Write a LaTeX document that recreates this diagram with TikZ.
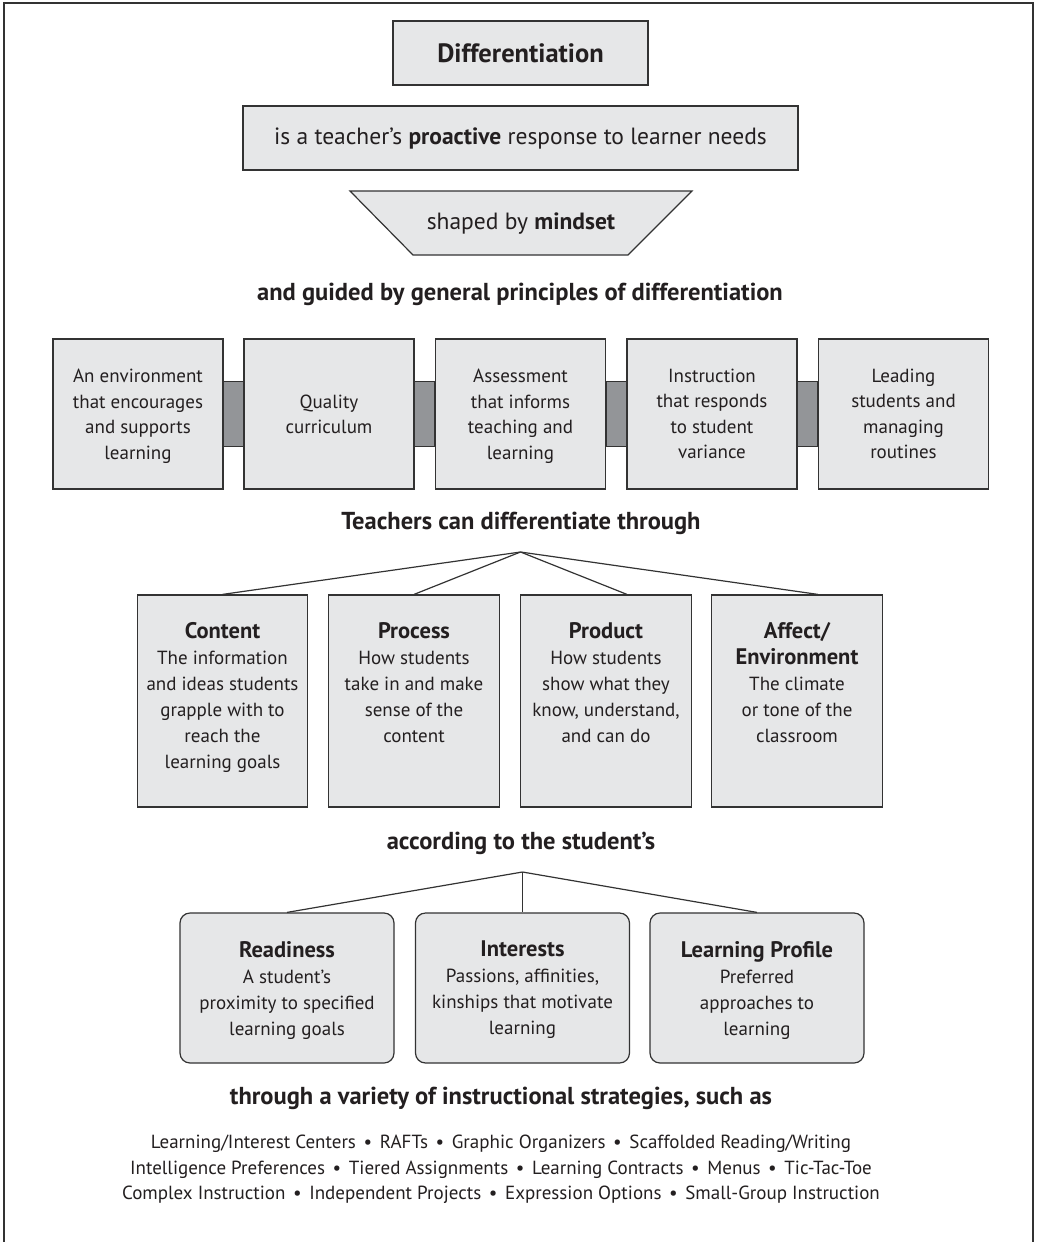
\documentclass[tikz,border=0pt]{standalone}
\usepackage{fontspec}
\setmainfont{PT Sans}
\definecolor{boxc}{HTML}{E6E7E8}
\definecolor{barc}{HTML}{939598}
\definecolor{linec}{HTML}{333333}
\definecolor{txtc}{HTML}{231F20}
\newcommand\myBody{\fontsize{19}{25.5}\selectfont}
\newcommand\myCont{\fontsize{19}{26}\selectfont}
\newcommand\myTi{\fontsize{22.5}{26}\selectfont\bfseries}
\newcommand\myDef{\fontsize{23.5}{27}\selectfont}
\newcommand\myHead{\fontsize{24.5}{28}\selectfont\bfseries}
\newcommand\myTitle{\fontsize{26.5}{30}\selectfont\bfseries}
\newcommand\bul{\hspace{0.4em}•\hspace{0.4em}}
\tikzset{
  boxline/.style={draw=linec, line width=1.2pt},
  box/.style={boxline, fill=boxc, inner sep=0pt, text=txtc},
  prin/.style={box, minimum width=170pt, minimum height=150pt, align=center, font=\myBody, text depth=0pt},
  cbox/.style={box, minimum width=170.5pt, minimum height=212pt},
  ctext/.style={anchor=north, align=center, font=\myCont, inner sep=0pt, text=txtc},
  sbox/.style={box, rounded corners=10pt, minimum width=214pt, minimum height=150pt, align=center, font=\myCont, text depth=0pt},
  head/.style={font=\myHead, text=txtc, inner sep=0pt},
  connbar/.style={boxline, fill=barc},
  link/.style={draw=linec, line width=1.2pt},
}
\begin{document}
\begin{tikzpicture}[x=1pt,y=-1pt]
\useasboundingbox (0,0) rectangle (1037,1242);
\fill[white] (0,0) rectangle (1037,1242);
\draw[draw=linec, line width=1.5pt] (4,1242) -- (4,3) -- (1033,3) -- (1033,1242);

% top
\node[box, minimum width=255pt, minimum height=64pt, font=\myTitle] (diff) at (520.5,53) {Differentiation};
\node[box, minimum width=555pt, minimum height=64pt, font=\myDef] (def) at (520.5,138) {is a teacher’s \textbf{proactive} response to learner needs};
\coordinate (tz1) at (350,191);
\coordinate (tz2) at (692,191);
\coordinate (tz3) at (628,255);
\coordinate (tz4) at (413,255);
\draw[boxline, fill=boxc] (tz1) -- (tz2) -- (tz3) -- (tz4) -- cycle;
\node[font=\myDef, text=txtc, inner sep=0pt] (mind) at (521,224) {shaped by \textbf{mindset}};

% principles
\node[head] (h1) at (520,294) {and guided by general principles of differentiation};
\node[prin] (p1) at (138,414) {An environment\\that encourages\\and supports\\learning};
\node[prin] (p2) at (329,414) {Quality\\curriculum};
\node[prin] (p3) at (520.5,414) {Assessment\\that informs\\teaching and\\learning};
\node[prin] (p4) at (712,414) {Instruction\\that responds\\to student\\variance};
\node[prin] (p5) at (903.5,414) {Leading\\students and\\managing\\routines};
\foreach \a/\b in {p1/p2,p2/p3,p3/p4,p4/p5}
  \draw[connbar] ([yshift=32.5pt]\a.east) rectangle ([yshift=-32.5pt]\b.west);

% ways
\node[head] (h2) at (521,523) {Teachers can differentiate through};
\coordinate (a1) at (520.5,552);
\node[cbox] (c1) at (222.5,701) {};
\node[cbox] (c2) at (414,701) {};
\node[cbox] (c3) at (606,701) {};
\node[cbox] (c4) at (797,701) {};
\node[ctext] (c1t) at ([yshift=-28pt]c1.north) {{\myTi Content}\\The information\\and ideas students\\grapple with to\\reach the\\learning goals};
\node[ctext] (c2t) at ([yshift=-28pt]c2.north) {{\myTi Process}\\How students\\take in and make\\sense of the\\content};
\node[ctext] (c3t) at ([yshift=-28pt]c3.north) {{\myTi Product}\\How students\\show what they\\know, understand,\\and can do};
\node[ctext] (c4t) at ([yshift=-28pt]c4.north) {{\myTi Affect/}\\{\myTi Environment}\\The climate\\or tone of the\\classroom};
\draw[link] (a1) -- (c1.north);
\draw[link] (a1) -- (c2.north);
\draw[link] (a1) -- ([xshift=21pt]c3.north);
\draw[link] (a1) -- ([xshift=21pt]c4.north);

% student
\node[head] (h3) at (521,843) {according to the student’s};
\coordinate (a2) at (522.5,872);
\node[sbox] (s1) at (287,988) {{\myTi Readiness}\\A student’s\\proximity to specified\\learning goals};
\node[sbox] (s2) at (522.5,988) {{\myTi Interests}\\Passions, affinities,\\kinships that motivate\\learning};
\node[sbox] (s3) at (757,988) {{\myTi Learning Profile}\\Preferred\\approaches to\\learning};
\draw[link] (a2) -- (s1.north);
\draw[link] (a2) -- (s2.north);
\draw[link] (a2) -- (s3.north);

% strategies
\node[head] (h4) at (501,1098) {through a variety of instructional strategies, such as};
\node[align=center, font=\myBody, text=txtc, inner sep=0pt] (strat) at (501,1169.5) {Learning/Interest Centers\bul RAFTs\bul Graphic Organizers\bul Scaffolded Reading/Writing\\Intelligence Preferences\bul Tiered Assignments\bul Learning Contracts\bul Menus\bul Tic-Tac-Toe\\Complex Instruction\bul Independent Projects\bul Expression Options\bul Small-Group Instruction};
\end{tikzpicture}
\end{document}
